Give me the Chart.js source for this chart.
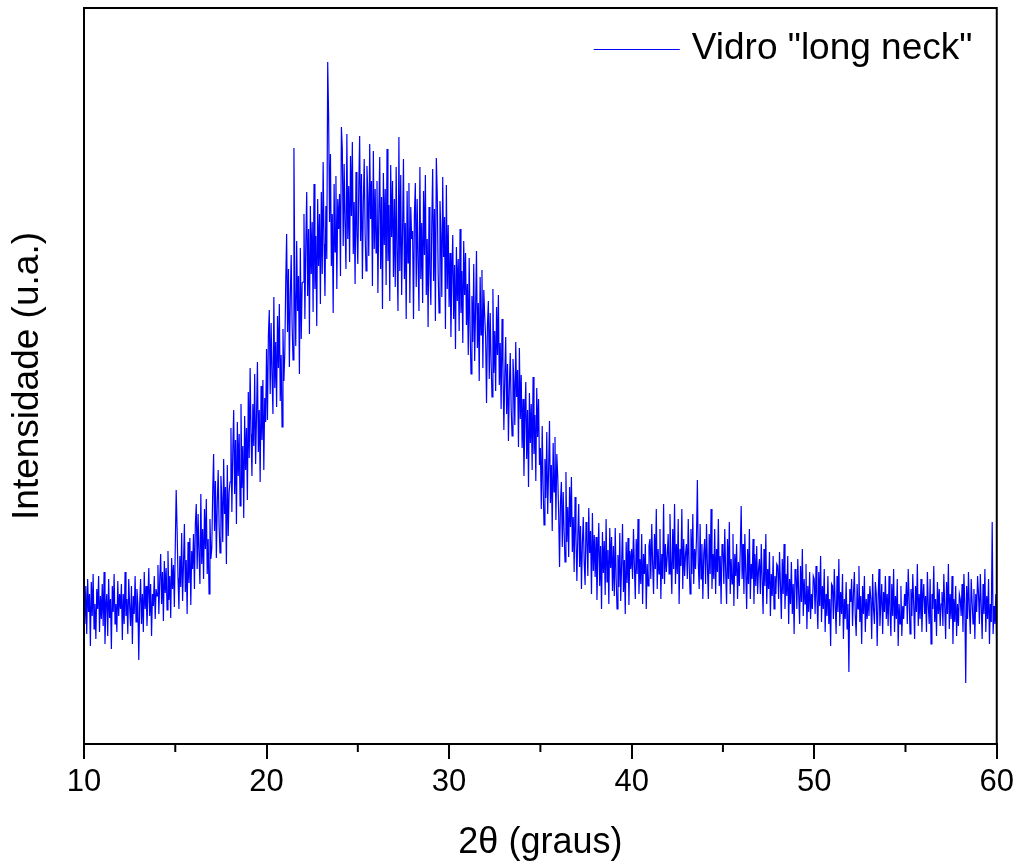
<!DOCTYPE html>
<html>
<head>
<meta charset="utf-8">
<script src="https://cdn.jsdelivr.net/npm/chart.js@4.4.0/dist/chart.umd.min.js"></script>
<style>
  html, body { margin: 0; padding: 0; background: #fff; }
  #wrap { width: 1019px; height: 865px; }
</style>
</head>
<body>
<div id="wrap"><canvas id="xrdChart" width="1019" height="865"></canvas></div>
<script>
// Varredura 2theta: 10 a 60 graus, passo de 0.05
const twoThetaStart = 10;
const twoThetaStep = 0.05;

// Intensidade (u.a.), uma linha por grau
const intensity = [
  144,120,158,110,165,132,150,98,162,128,170,115,140,105,155,135,168,112,148,125, // 10
  160,118,172,100,138,150,108,165,126,145,95,158,132,170,120,140,112,163,128,150, // 11
  135,160,104,150,120,172,128,145,110,165,138,118,158,100,148,130,168,122,155,140, // 12
  84,140,165,120,150,112,172,135,158,118,145,176,128,160,108,150,138,168,125,155, // 13
  148,179,130,165,190,140,172,123,183,151,176,134,193,144,168,126,186,155,179,137, // 14
  197,254,215,166,135,188,157,211,143,180,220,152,184,130,202,161,206,139,193,175, // 15
  210,155,220,240,175,230,190,160,250,180,215,165,235,195,245,170,205,150,225,185, // 16
  196,252,290,213,263,186,241,274,219,191,268,246,202,285,230,257,180,279,208,252, // 17
  262,316,232,292,334,250,304,220,322,268,310,238,340,256,298,226,328,274,316,244, // 18
  352,286,376,310,268,340,298,370,280,328,382,292,334,262,358,304,364,274,346,322, // 19
  395,324,408,434,350,421,369,330,447,356,402,337,428,376,440,343,389,317,415,363, // 20
  391,461,510,412,475,377,447,489,419,384,596,454,398,503,433,468,370,496,405,461, // 21
  462,530,425,500,552,448,515,410,538,470,522,432,560,455,508,418,545,478,530,440, // 22
  552,470,582,500,448,538,485,682,627,522,590,478,530,431,560,492,568,455,545,515, // 23
  550,468,617,595,498,580,520,475,610,505,558,482,588,528,602,490,542,460,572,512, // 24
  480,555,608,503,570,465,540,585,510,473,578,548,488,600,525,563,458,593,495,555, // 25
  491,563,451,531,587,475,547,435,571,499,555,459,595,483,539,443,579,507,563,467, // 26
  545,457,577,489,433,607,473,569,449,513,585,465,521,425,553,481,561,441,537,505, // 27
  513,425,529,561,457,545,481,433,577,465,521,441,553,489,569,449,505,417,537,473, // 28
  439,519,575,463,535,423,586,551,471,431,543,511,447,567,487,527,415,559,455,519, // 29
  437,491,407,467,509,425,479,395,497,443,485,413,515,431,473,401,503,449,491,419, // 30
  460,389,486,415,370,448,402,480,383,435,493,396,441,363,467,409,474,376,454,428, // 31
  407,341,419,443,365,431,383,347,455,371,413,353,437,389,449,359,401,335,425,377, // 32
  314,369,407,330,380,303,358,391,336,308,385,363,319,402,347,374,297,396,325,369, // 33
  296,345,268,323,362,285,334,257,351,301,340,274,367,290,329,263,356,307,345,279, // 34
  296,235,318,257,219,285,246,312,230,274,323,241,279,213,301,252,307,224,290,268, // 35
  232,177,242,262,197,252,212,182,272,202,237,187,257,217,267,192,227,172,247,207, // 36
  163,209,240,177,218,155,200,227,182,159,222,204,168,236,191,213,150,231,173,209, // 37
  167,207,144,189,221,158,198,135,212,171,203,149,225,162,194,140,216,176,207,153, // 38
  198,148,216,166,135,189,157,211,143,180,220,152,184,130,202,161,206,139,193,175, // 39
  195,165,215,178,145,205,170,225,150,185,160,210,140,190,170,200,135,180,158,198, // 40
  205,165,220,180,150,210,175,235,155,195,170,215,145,190,165,240,160,200,172,188, // 41
  210,170,230,185,150,215,175,240,160,200,170,225,140,195,178,235,155,205,168,190, // 42
  200,165,225,180,150,215,170,230,160,195,175,205,264,180,155,220,165,200,145,190, // 43
  205,160,220,178,145,210,170,235,155,190,165,215,150,195,172,225,158,188,140,200, // 44
  195,160,215,172,140,205,165,222,150,185,160,210,138,190,168,200,145,182,158,195, // 45
  238,165,200,150,210,172,135,195,160,215,145,180,165,205,140,190,158,198,150,175, // 46
  185,150,200,165,130,195,158,210,140,175,155,192,128,170,148,188,135,168,150,180, // 47
  178,145,192,160,125,185,150,200,135,170,148,188,120,165,140,182,130,160,110,175, // 48
  170,135,185,150,120,178,142,195,128,165,140,180,115,158,132,172,125,150,135,168, // 49
  165,130,178,145,115,172,138,188,122,158,135,175,112,150,128,168,120,145,98,160,  // 50
  158,125,175,140,110,168,132,185,118,152,130,170,105,145,125,162,115,140,72,155,  // 51
  142,165,118,150,172,128,108,160,135,178,122,148,100,158,130,168,112,145,125,150, // 52
  128,158,145,105,170,135,120,162,150,98,145,175,118,140,160,110,152,132,168,125,  // 53
  150,118,168,135,108,160,128,175,112,148,125,165,98,140,120,158,108,138,125,150,  // 54
  138,162,120,175,145,110,155,128,170,140,105,158,132,180,118,150,125,165,112,145, // 55
  160,130,148,112,172,138,120,165,100,150,135,178,122,145,108,162,130,155,118,140, // 56
  152,118,170,138,105,162,130,180,115,150,125,168,100,145,122,158,108,140,118,150, // 57
  145,128,160,112,170,140,61,158,125,172,135,110,165,142,120,155,105,150,132,168,  // 58
  150,120,170,138,105,160,130,175,112,148,125,165,100,140,122,222,110,138,120,150, // 59
  95 // 60
];

const twoTheta = intensity.map((_, i) => +(twoThetaStart + i * twoThetaStep).toFixed(2));

const xTicks = [10, 20, 30, 40, 50, 60];
const xMinorTicks = [15, 25, 35, 45, 55];
const seriesLabel = 'Vidro "long neck"';

const fontFamily = '"Liberation Sans", Arial, Helvetica, sans-serif';

// moldura do gráfico + marcas menores no eixo x
const framePlugin = {
  id: 'frame',
  afterDraw(chart) {
    const { ctx, chartArea: a, scales: { x } } = chart;
    ctx.save();
    ctx.strokeStyle = '#000';
    ctx.lineWidth = 2;
    ctx.strokeRect(a.left, a.top, a.right - a.left, a.bottom - a.top);
    xMinorTicks.forEach(v => {
      const px = x.getPixelForValue(v);
      ctx.beginPath();
      ctx.moveTo(px, a.bottom);
      ctx.lineTo(px, a.bottom + 8);
      ctx.stroke();
    });
    ctx.restore();
  }
};

// legenda dentro da área do gráfico, canto superior direito
const insideLegend = {
  id: 'insideLegend',
  afterDatasetsDraw(chart) {
    const { ctx, chartArea: a } = chart;
    const ds = chart.data.datasets[0];
    const y = a.top + 41;
    ctx.save();
    ctx.strokeStyle = ds.borderColor;
    ctx.lineWidth = 1;
    ctx.beginPath();
    ctx.moveTo(a.right - 403, y + 0.5);
    ctx.lineTo(a.right - 317, y + 0.5);
    ctx.stroke();
    ctx.fillStyle = '#000';
    ctx.font = '37px ' + fontFamily;
    ctx.textBaseline = 'middle';
    ctx.textAlign = 'left';
    ctx.fillText(ds.label, a.right - 305, y);
    ctx.restore();
  }
};

new Chart(document.getElementById('xrdChart'), {
  type: 'line',
  data: {
    datasets: [{
      label: seriesLabel,
      data: intensity.map((v, i) => ({ x: twoTheta[i], y: v })),
      borderColor: '#0000ff',
      backgroundColor: '#0000ff',
      borderWidth: 1.2,
      pointRadius: 0,
      tension: 0,
      fill: false
    }]
  },
  options: {
    responsive: false,
    animation: false,
    layout: { padding: { top: 8, right: 22, left: 0, bottom: 0 } },
    plugins: {
      tooltip: { enabled: false },
      legend: { display: false }
    },
    scales: {
      x: {
        type: 'linear',
        min: 10,
        max: 60,
        afterBuildTicks: scale => { scale.ticks = xTicks.map(v => ({ value: v })); },
        afterFit: scale => { scale.height = 121; },
        grid: { display: true, drawOnChartArea: false, drawTicks: true, tickLength: 15, color: '#000', lineWidth: 2 },
        border: { display: true, color: '#000', width: 2 },
        ticks: { color: '#000', font: { family: fontFamily, size: 31 }, padding: 5, maxRotation: 0, autoSkip: false },
        title: {
          display: true,
          text: '2θ (graus)',
          color: '#000',
          font: { family: fontFamily, size: 36 },
          padding: { top: 0, bottom: 0 }
        }
      },
      y: {
        min: 0,
        max: 736,
        afterFit: scale => { scale.width = 84; },
        ticks: { display: false },
        grid: { display: false },
        border: { display: true, color: '#000', width: 2 },
        title: {
          display: true,
          text: 'Intensidade (u.a.)',
          color: '#000',
          font: { family: fontFamily, size: 37 },
          padding: { top: 6, bottom: 0 }
        }
      }
    }
  },
  plugins: [framePlugin, insideLegend]
});
</script>
</body>
</html>
